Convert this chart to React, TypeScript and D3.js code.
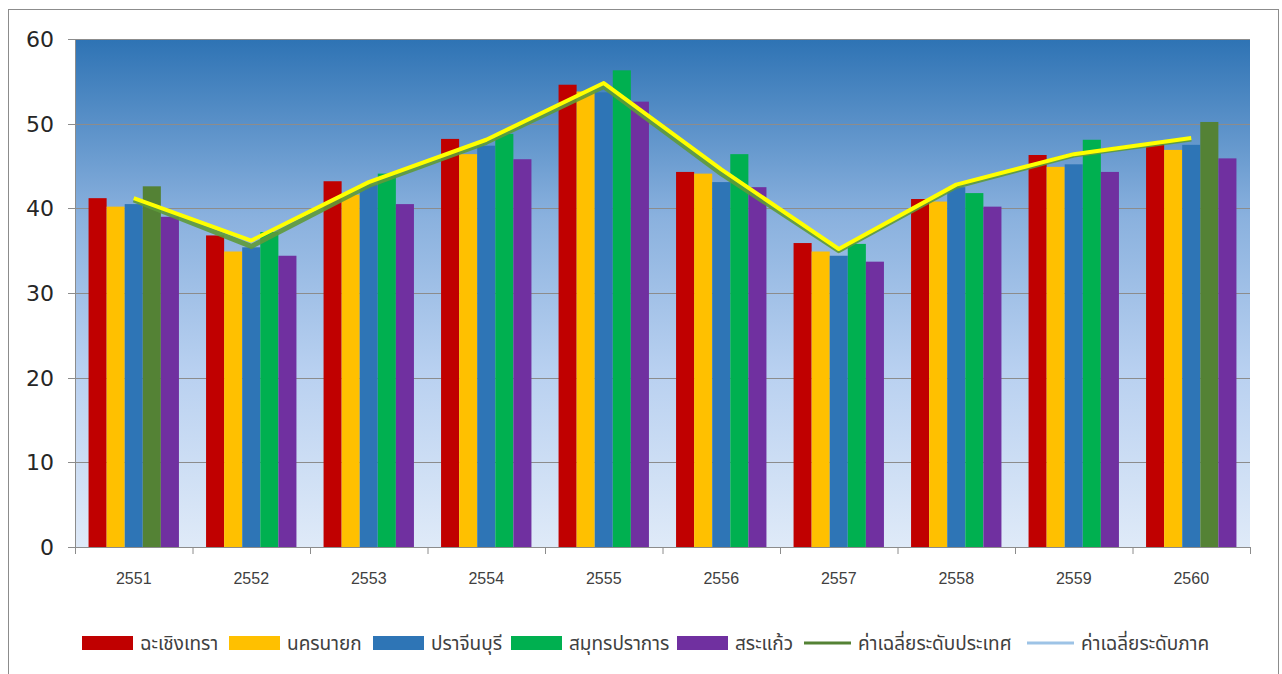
import { useEffect, useRef } from "react";
import * as d3 from "d3";

// Years (Buddhist era)
const years = ["2551", "2552", "2553", "2554", "2555", "2556", "2557", "2558", "2559", "2560"];

// Provinces
const provinces = ["ฉะเชิงเทรา", "นครนายก", "ปราจีนบุรี", "สมุทรปราการ", "สระแก้ว"];
const provinceColors = ["#C00000", "#FFC000", "#2E75B6", "#00B050", "#7030A0"];

const chachoengsao = [41.2, 36.8, 43.2, 48.2, 54.6, 44.3, 35.9, 41.1, 46.3, 47.6];
const nakhonNayok = [40.2, 34.9, 41.6, 46.4, 53.8, 44.1, 34.9, 40.8, 44.9, 46.9];
const prachinBuri = [40.5, 35.4, 42.8, 47.4, 53.7, 43.1, 34.4, 42.5, 45.2, 47.5];
const samutPrakan = [42.6, 37.2, 44.1, 48.8, 56.3, 46.4, 35.8, 41.8, 48.1, 50.2];
const saKaeo = [39.0, 34.4, 40.5, 45.8, 52.6, 42.5, 33.7, 40.2, 44.3, 45.9];

// Averages
const nationalAvg = [41.0, 35.5, 42.7, 47.8, 54.4, 44.1, 35.0, 42.6, 46.3, 48.2];
const regionalAvg = [41.2, 36.2, 43.1, 48.1, 54.8, 44.6, 35.2, 42.8, 46.4, 48.3];

const yTicks = [0, 10, 20, 30, 40, 50, 60];

const legendItems = [
  { label: provinces[0], color: provinceColors[0], type: "rect", x: 82 },
  { label: provinces[1], color: provinceColors[1], type: "rect", x: 229 },
  { label: provinces[2], color: provinceColors[2], type: "rect", x: 373 },
  { label: provinces[3], color: provinceColors[3], type: "rect", x: 511 },
  { label: provinces[4], color: provinceColors[4], type: "rect", x: 677 },
  { label: "ค่าเฉลี่ยระดับประเทศ", color: "#548235", type: "line", x: 804 },
  { label: "ค่าเฉลี่ยระดับภาค", color: "#9DC3E6", type: "line", x: 1027 },
];

const THAI_FONT = "Tahoma, 'Noto Sans Thai', 'Noto Sans', 'DejaVu Sans', sans-serif";

export default function App() {
  const svgRef = useRef<SVGSVGElement>(null);
  const width = 1282;
  const height = 674;

  useEffect(() => {
    if (!svgRef.current) return;
    const svg = d3.select(svgRef.current);
    svg.selectAll("*").remove();

    const left = 75;
    const right = 1250;
    const top = 39;
    const bottom = 547;

    const x = d3.scaleBand<string>().domain(years).range([left, right]).paddingInner(0).paddingOuter(0);
    const inner = d3.scaleBand<number>().domain(d3.range(5)).range([0, x.bandwidth()]).paddingOuter(0.75).paddingInner(0);
    const y = d3.scaleLinear().domain([0, 60]).range([bottom, top]);

    // Outer frame
    svg.append("rect")
      .attr("x", 8.5).attr("y", 9.5)
      .attr("width", 1270).attr("height", 680)
      .attr("fill", "#ffffff").attr("stroke", "#8c8c8c").attr("stroke-width", 1);

    // Plot background gradient
    const defs = svg.append("defs");
    const grad = defs.append("linearGradient")
      .attr("id", "plotBg").attr("x1", 0).attr("y1", 0).attr("x2", 0).attr("y2", 1);
    grad.append("stop").attr("offset", "0%").attr("stop-color", "#2E73B4");
    grad.append("stop").attr("offset", "35%").attr("stop-color", "#8AB1DE");
    grad.append("stop").attr("offset", "65%").attr("stop-color", "#B8D0F0");
    grad.append("stop").attr("offset", "100%").attr("stop-color", "#DFEAF8");

    svg.append("rect")
      .attr("x", left).attr("y", top)
      .attr("width", right - left).attr("height", bottom - top)
      .attr("fill", "url(#plotBg)");

    // Gridlines
    svg.append("g")
      .selectAll("line")
      .data(yTicks.filter((t) => t > 0))
      .join("line")
      .attr("x1", left - 7).attr("x2", right)
      .attr("y1", (d) => Math.round(y(d)) + 0.5).attr("y2", (d) => Math.round(y(d)) + 0.5)
      .attr("stroke", "#8c8c8c").attr("stroke-width", 1.2);

    // Bars
    const series = [chachoengsao, nakhonNayok, prachinBuri, samutPrakan, saKaeo];
    series.forEach((vals, si) => {
      svg.append("g")
        .selectAll("rect")
        .data(vals)
        .join("rect")
        .attr("x", (_, i) => (x(years[i]) as number) + (inner(si) as number))
        .attr("y", (d) => y(d))
        .attr("width", inner.bandwidth())
        .attr("height", (d) => y(0) - y(d))
        .attr("fill", (_, i) => (si === 3 && (i === 0 || i === 9) ? "#548235" : provinceColors[si]));
    });

    // Lines
    const lineGen = d3.line<number>()
      .x((_, i) => (x(years[i]) as number) + x.bandwidth() / 2)
      .y((d) => y(d));

    svg.append("path")
      .datum(nationalAvg)
      .attr("d", lineGen)
      .attr("fill", "none")
      .attr("stroke", "#5E9A3A")
      .attr("stroke-width", 5)
      .attr("stroke-linejoin", "round")
      .attr("opacity", 0.9);

    svg.append("path")
      .datum(regionalAvg)
      .attr("d", lineGen)
      .attr("fill", "none")
      .attr("stroke", "#FFFF00")
      .attr("stroke-width", 4)
      .attr("stroke-linejoin", "round");

    // Y axis
    svg.append("line")
      .attr("x1", left + 0.5).attr("x2", left + 0.5)
      .attr("y1", top).attr("y2", bottom)
      .attr("stroke", "#8c8c8c");

    svg.append("g")
      .selectAll("text")
      .data(yTicks)
      .join("text")
      .attr("x", 54)
      .attr("y", (d) => y(d))
      .attr("dy", "0.36em")
      .attr("text-anchor", "end")
      .attr("font-family", "'DejaVu Sans', Verdana, sans-serif")
      .attr("font-size", 22)
      .attr("fill", "#262626")
      .text((d) => d);

    // X axis
    svg.append("line")
      .attr("x1", left - 7).attr("x2", right)
      .attr("y1", bottom + 0.5).attr("y2", bottom + 0.5)
      .attr("stroke", "#8c8c8c").attr("stroke-width", 1.2);

    svg.append("g")
      .selectAll("line")
      .data(years.concat(["end"]))
      .join("line")
      .attr("x1", (_, i) => left + i * x.bandwidth() + 0.5)
      .attr("x2", (_, i) => left + i * x.bandwidth() + 0.5)
      .attr("y1", bottom).attr("y2", bottom + 7)
      .attr("stroke", "#8c8c8c");

    svg.append("g")
      .selectAll("text")
      .data(years)
      .join("text")
      .attr("x", (d) => (x(d) as number) + x.bandwidth() / 2)
      .attr("y", 584)
      .attr("text-anchor", "middle")
      .attr("font-family", "Tahoma, 'Liberation Sans', Arial, sans-serif")
      .attr("font-size", 16)
      .attr("fill", "#404040")
      .text((d) => d);

    // Legend
    const legend = svg.append("g");
    legendItems.forEach((item) => {
      if (item.type === "rect") {
        legend.append("rect")
          .attr("x", item.x).attr("y", 636)
          .attr("width", 51).attr("height", 14)
          .attr("fill", item.color);
      } else {
        legend.append("line")
          .attr("x1", item.x).attr("x2", item.x + 47)
          .attr("y1", 643).attr("y2", 643)
          .attr("stroke", item.color).attr("stroke-width", 3);
      }
      legend.append("text")
        .attr("x", item.x + (item.type === "rect" ? 58 : 54))
        .attr("y", 643)
        .attr("dy", "0.36em")
        .attr("font-family", THAI_FONT)
        .attr("font-size", 19)
        .attr("fill", "#404040")
        .text(item.label);
    });
  }, []);

  return (
    <div style={{ position: "absolute", left: 0, top: 0 }}>
      <svg ref={svgRef} width={width} height={height} style={{ display: "block" }} />
    </div>
  );
}
